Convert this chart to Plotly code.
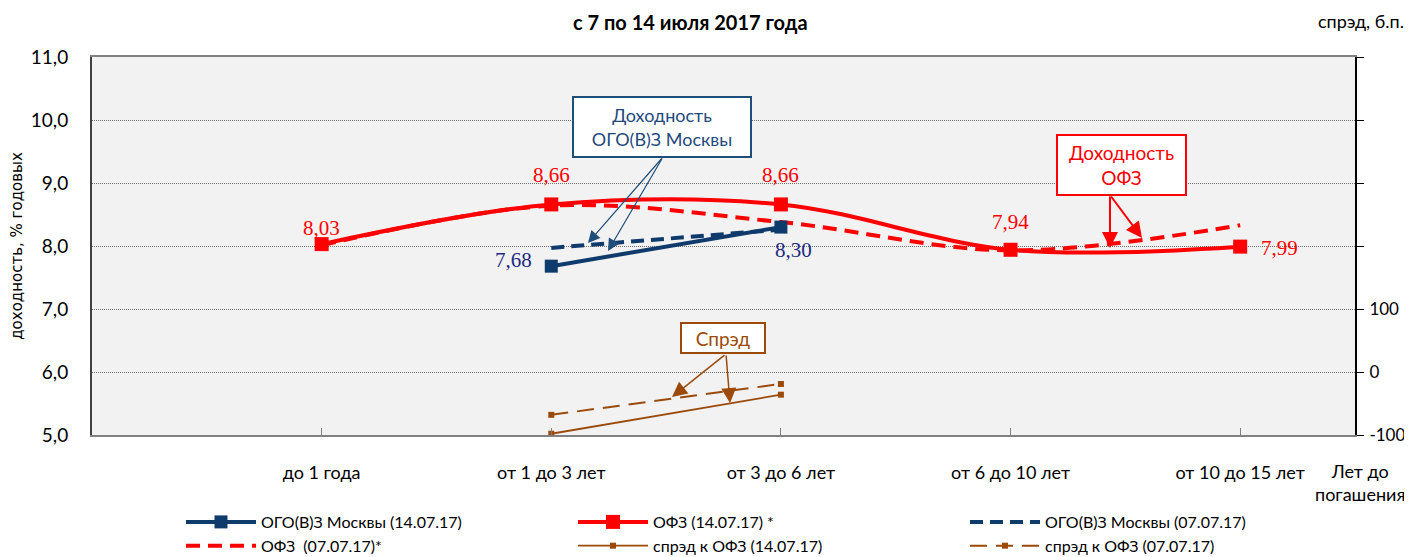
import plotly.graph_objects as go

# ---------------- data ----------------
categories = ["до 1 года", "от 1 до 3 лет", "от 3 до 6 лет", "от 6 до 10 лет", "от 10 до 15 лет"]

ofz_14 = [8.03, 8.66, 8.66, 7.94, 7.99]
ofz_14_labels = ["8,03", "8,66", "8,66", "7,94", "7,99"]
ofz_07 = [8.01, 8.64, 8.38, 7.93, 8.33]

ogo_cats = ["от 1 до 3 лет", "от 3 до 6 лет"]
ogo_14 = [7.68, 8.30]
ogo_14_labels = ["7,68", "8,30"]
ogo_07 = [7.97, 8.26]

spread_14 = [-98, -36]
spread_07 = [-68, -19]

y_ticks = [5, 6, 7, 8, 9, 10, 11]
y_ticktext = ["5,0", "6,0", "7,0", "8,0", "9,0", "10,0", "11,0"]
y2_ticks = [-100, 0, 100, 200, 300, 400, 500]
y2_ticktext = ["-100", "0", "100", "", "", "", ""]

# ---------------- styles ----------------
RED = "#FF0000"
NAVY = "#0F3B6C"
NAVY_TXT = "#1F2A80"
BOX_BLUE = "#1F4E79"
BROWN = "#9C4A0A"
FONT = "Lato, 'Open Sans', sans-serif"
SERIF = "'Liberation Serif', 'DejaVu Serif', serif"

# page body has an 8px margin: figure coords = screen coords - 8
OFF = 8
W, H = 1412 - OFF, 557 - OFF
# plot area in screen pixels
L, R, T, B = 92, 1355, 57, 435


def px(xp):
    return (xp - L) / (R - L)


def py(yp):
    return (B - yp) / (B - T)


fig = go.Figure()

fig.add_trace(go.Scatter(
    x=categories, y=ofz_07, name="ОФЗ  (07.07.17)*", mode="lines",
    line=dict(color=RED, width=4, dash="14px,8px", shape="spline"), legendrank=4))
fig.add_trace(go.Scatter(
    x=ogo_cats, y=ogo_07, name="ОГО(В)З Москвы (07.07.17)", mode="lines",
    line=dict(color=NAVY, width=4, dash="13px,7px"), legendrank=3))
fig.add_trace(go.Scatter(
    x=categories, y=ofz_14, name="ОФЗ (14.07.17) *", mode="lines+markers",
    line=dict(color=RED, width=4, shape="spline"),
    marker=dict(symbol="square", size=14, color=RED), legendrank=2))
fig.add_trace(go.Scatter(
    x=ogo_cats, y=ogo_14, name="ОГО(В)З Москвы (14.07.17)", mode="lines+markers",
    line=dict(color=NAVY, width=4),
    marker=dict(symbol="square", size=13, color=NAVY), legendrank=1))
fig.add_trace(go.Scatter(
    x=ogo_cats, y=spread_14, name="спрэд к ОФЗ (14.07.17)", mode="lines+markers",
    yaxis="y2", line=dict(color=BROWN, width=1.8),
    marker=dict(symbol="square", size=6, color=BROWN), legendrank=5))
fig.add_trace(go.Scatter(
    x=ogo_cats, y=spread_07, name="спрэд к ОФЗ (07.07.17)", mode="lines+markers",
    yaxis="y2", line=dict(color=BROWN, width=2, dash="17px,9px"),
    marker=dict(symbol="square", size=6, color=BROWN), legendrank=6))

annotations = []

# data labels (offsets in pixels)
ofz_label_shift = [(0, 16), (0, 29), (0, 29), (0, 28), (39, -1)]
for c, v, t, (dx, dy) in zip(categories, ofz_14, ofz_14_labels, ofz_label_shift):
    annotations.append(dict(x=c, y=v, xref="x", yref="y", text=t, showarrow=False,
                            xshift=dx, yshift=dy, font=dict(family=SERIF, size=21, color=RED)))
ogo_label_shift = [(-38, 6), (13, -23)]
for c, v, t, (dx, dy) in zip(ogo_cats, ogo_14, ogo_14_labels, ogo_label_shift):
    annotations.append(dict(x=c, y=v, xref="x", yref="y", text=t, showarrow=False,
                            xshift=dx, yshift=dy, font=dict(family=SERIF, size=21, color=NAVY_TXT)))

# title and side captions
annotations.append(dict(xref="paper", yref="paper", x=px(690), y=py(OFF), text="<b>с 7 по 14 июля 2017 года</b>",
                        showarrow=False, font=dict(family=FONT, size=20, color="black"),
                        xanchor="center", yanchor="top"))
annotations.append(dict(xref="paper", yref="paper", x=px(1406), y=py(21), text="спрэд, б.п.",
                        showarrow=False, font=dict(family=FONT, size=18, color="black"),
                        xanchor="right", yanchor="middle"))
annotations.append(dict(xref="paper", yref="paper", x=px(1360), y=py(482), text="Лет до<br>погашения",
                        showarrow=False, font=dict(family=FONT, size=18, color="black"),
                        xanchor="center", yanchor="middle", align="center"))

# callout boxes
annotations.append(dict(xref="paper", yref="paper", x=px(662), y=py(127),
                        text="Доходность<br>ОГО(В)З Москвы", showarrow=False,
                        font=dict(family=FONT, size=18, color="#1F497D"),
                        bordercolor=BOX_BLUE, borderwidth=2, bgcolor="white",
                        width=174, height=56, xanchor="center", yanchor="middle"))
annotations.append(dict(xref="paper", yref="paper", x=px(1121), y=py(165),
                        text="Доходность<br>ОФЗ", showarrow=False,
                        font=dict(family=FONT, size=19, color=RED),
                        bordercolor=RED, borderwidth=2, bgcolor="white",
                        width=125, height=56, xanchor="center", yanchor="middle"))
annotations.append(dict(xref="paper", yref="paper", x=px(723), y=py(338),
                        text="Спрэд", showarrow=False,
                        font=dict(family=FONT, size=19, color=BROWN),
                        bordercolor=BROWN, borderwidth=2, bgcolor="white",
                        width=80, height=26, xanchor="center", yanchor="middle"))

# arrows: (tail_x, tail_y, head_x, head_y, color, width, head size)
arrows = [
    (663, 157, 588, 243, BOX_BLUE, 1.2, 2.0),
    (663, 157, 608, 251, BOX_BLUE, 1.2, 2.0),
    (1110, 195, 1110, 248, RED, 2, 1.6),
    (1110, 195, 1142, 238, RED, 2, 1.6),
    (726, 354, 672, 397, BROWN, 1.5, 2.0),
    (726, 354, 730, 403, BROWN, 1.5, 2.0),
]
for tx, ty, hx, hy, c, w, s in arrows:
    annotations.append(dict(xref="paper", yref="paper", x=px(hx), y=py(hy), ax=tx - hx, ay=ty - hy,
                            axref="pixel", ayref="pixel", text="", showarrow=True,
                            arrowhead=2, arrowsize=s, arrowwidth=w, arrowcolor=c))

fig.update_layout(
    width=W, height=H,
    margin=dict(l=L - OFF, r=W - (R - OFF), t=T - OFF, b=H - (B - OFF), autoexpand=False),
    paper_bgcolor="white", plot_bgcolor="#F2F2F2",
    font=dict(family=FONT, color="black"),
    showlegend=True,
    legend=dict(orientation="h", x=px(181), xanchor="left", y=py(505), yanchor="top",
                entrywidth=307, entrywidthmode="pixels", itemwidth=70,
                font=dict(family=FONT, size=16, color="black"), bgcolor="rgba(0,0,0,0)",
                traceorder="normal"),
    annotations=annotations,
    xaxis=dict(type="category", categoryorder="array", categoryarray=categories,
               range=[-1, 4.5], showgrid=False, ticks="inside", ticklen=7, tickcolor="#808080",
               showline=True, linecolor="#808080", linewidth=2, mirror=True, ticklabelstandoff=20,
               tickfont=dict(family=FONT, size=18, color="black"), zeroline=False),
    yaxis=dict(range=[5, 11], tickvals=y_ticks, ticktext=y_ticktext,
               showgrid=True, gridcolor="#6E6E6E", griddash="1px,1px", gridwidth=1,
               showline=True, linecolor="#404040", linewidth=2, ticks="", ticklabelstandoff=18,
               tickfont=dict(family=FONT, size=19, color="black"), zeroline=False,
               title=dict(text="доходность, % годовых", standoff=8,
                          font=dict(family="'DejaVu Sans', sans-serif", size=15, color="black"))),
    yaxis2=dict(range=[-100, 500], overlaying="y", side="right", tickvals=y2_ticks, ticktext=y2_ticktext,
                showgrid=False, ticks="outside", ticklen=7, tickcolor="black", ticklabelstandoff=2,
                showline=True, linecolor="black", linewidth=2, zeroline=False,
                tickfont=dict(family=FONT, size=17, color="black")),
)

fig.write_html("out.html")
